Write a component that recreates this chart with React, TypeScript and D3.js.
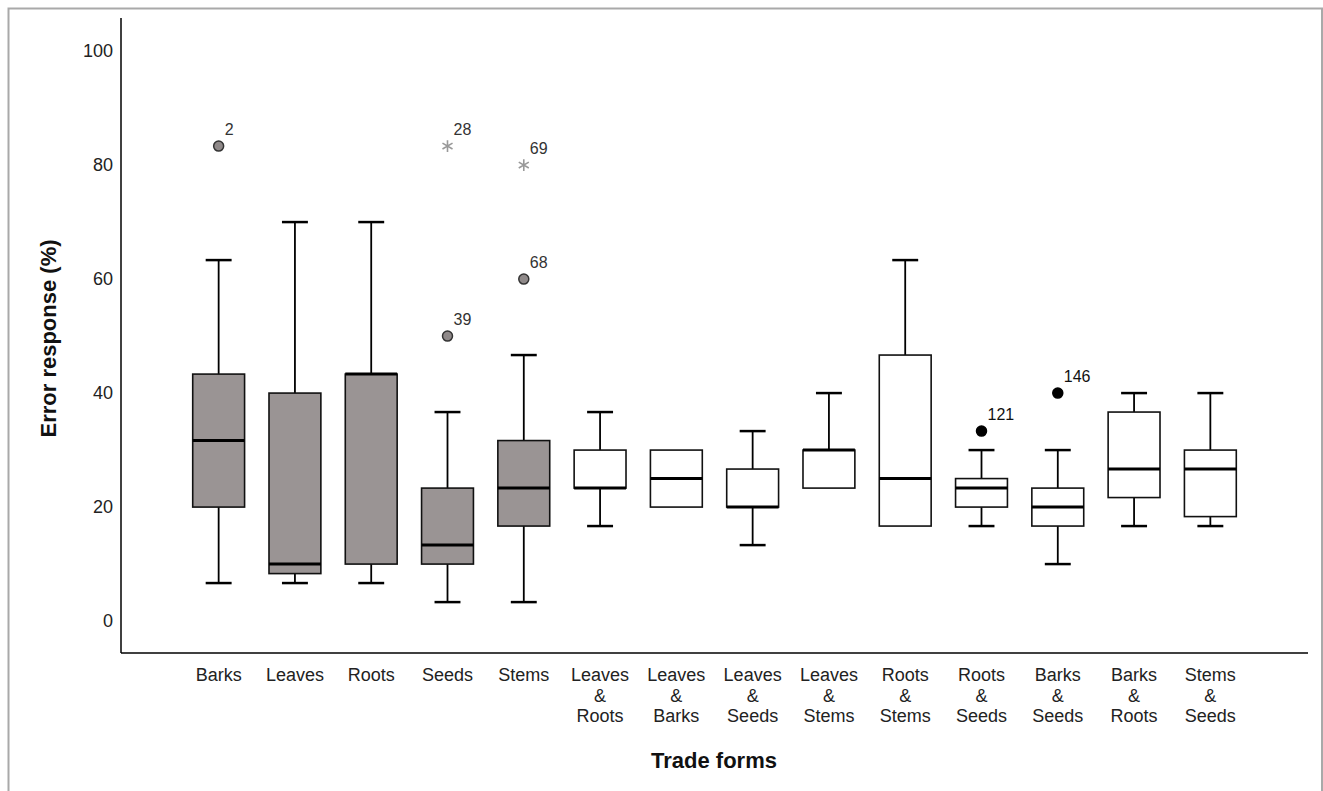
import React from "react";
import * as d3 from "d3";

const categories = [
  "Barks", "Leaves", "Roots", "Seeds", "Stems",
  "Leaves & Roots", "Leaves & Barks", "Leaves & Seeds", "Leaves & Stems",
  "Roots & Stems", "Roots & Seeds", "Barks & Seeds", "Barks & Roots", "Stems & Seeds",
];
const whiskerLow = [6.67, 6.67, 6.67, 3.33, 3.33, 16.67, 20, 13.33, 23.33, 16.67, 16.67, 10, 16.67, 16.67];
const q1 = [20, 8.33, 10, 10, 16.67, 23.33, 20, 20, 23.33, 16.67, 20, 16.67, 21.67, 18.33];
const medians = [31.67, 10, 43.33, 13.33, 23.33, 23.33, 25, 20, 30, 25, 23.33, 20, 26.67, 26.67];
const q3 = [43.33, 40, 43.33, 23.33, 31.67, 30, 30, 26.67, 30, 46.67, 25, 23.33, 36.67, 30];
const whiskerHigh = [63.33, 70, 70, 36.67, 46.67, 36.67, 30, 33.33, 40, 63.33, 30, 30, 40, 40];
const singleForms = ["Barks", "Leaves", "Roots", "Seeds", "Stems"];

const outlierCats = ["Barks", "Seeds", "Seeds", "Stems", "Stems", "Roots & Seeds", "Barks & Seeds"];
const outlierValues = [83.33, 50, 83.33, 60, 80, 33.33, 40];
const outlierLabels = ["2", "39", "28", "68", "69", "121", "146"];
const outlierKinds = ["circle", "circle", "star", "circle", "star", "circle", "circle"];

const yTicks = [0, 20, 40, 60, 80, 100];
const yDomain = [-5.6, 105.8];

const FONT = "'Liberation Sans', Arial, sans-serif";

export default function App() {
  const W = 1323, H = 791;
  const x0 = 121, x1 = 1308, yTop = 18, yBottom = 653;
  const x = d3.scalePoint<string>().domain(categories).range([x0, x1]).padding(1.28);
  const y = d3.scaleLinear().domain(yDomain).range([yBottom, yTop]);
  const step = x.step();
  const boxW = step * 0.68;
  const capW = boxW * 0.5;
  const star = d3.symbol().type(d3.symbolAsterisk).size(95)();

  return (
    <svg width={W} height={H} style={{ position: "absolute", left: 0, top: 0, display: "block", background: "#fff" }}>
      <rect x={8.5} y={8.5} width={1313.5} height={820} fill="none" stroke="#a9a9a9" strokeWidth={2} />
      {/* axes */}
      <line x1={x0} x2={x0} y1={yTop} y2={yBottom} stroke="#000" strokeWidth={1.5} />
      <line x1={x0} x2={x1} y1={yBottom} y2={yBottom} stroke="#000" strokeWidth={1.5} />
      {yTicks.map((t) => (
        <text key={t} x={113} y={y(t)} dy="0.35em" textAnchor="end" fontFamily={FONT} fontSize={18} fill="#222">
          {t}
        </text>
      ))}
      {categories.map((c) => {
        const lines = c.includes(" & ") ? [c.split(" & ")[0], "&", c.split(" & ")[1]] : [c];
        return (
          <text key={c} x={x(c)} y={681} textAnchor="middle" fontFamily={FONT} fontSize={18} fill="#222">
            {lines.map((l, i) => (
              <tspan key={i} x={x(c)} y={681 + i * 20.5}>{l}</tspan>
            ))}
          </text>
        );
      })}
      <text x={714} y={768} textAnchor="middle" fontFamily={FONT} fontSize={22} fontWeight="bold" fill="#111">
        Trade forms
      </text>
      <text transform={`translate(56,${(yTop + yBottom) / 2 + 3}) rotate(-90)`} textAnchor="middle" fontFamily={FONT} fontSize={22} fontWeight="bold" fill="#111">
        Error response (%)
      </text>
      {/* boxes */}
      {categories.map((c, i) => {
        const cx = x(c) as number;
        const fill = singleForms.includes(c) ? "#9a9494" : "#ffffff";
        return (
          <g key={c}>
            {whiskerHigh[i] > q3[i] && (
              <>
                <line x1={cx} x2={cx} y1={y(q3[i])} y2={y(whiskerHigh[i])} stroke="#000" strokeWidth={1.8} />
                <line x1={cx - capW / 2} x2={cx + capW / 2} y1={y(whiskerHigh[i])} y2={y(whiskerHigh[i])} stroke="#000" strokeWidth={2.5} />
              </>
            )}
            {whiskerLow[i] < q1[i] && (
              <>
                <line x1={cx} x2={cx} y1={y(q1[i])} y2={y(whiskerLow[i])} stroke="#000" strokeWidth={1.8} />
                <line x1={cx - capW / 2} x2={cx + capW / 2} y1={y(whiskerLow[i])} y2={y(whiskerLow[i])} stroke="#000" strokeWidth={2.5} />
              </>
            )}
            <rect x={cx - boxW / 2} y={y(q3[i])} width={boxW} height={y(q1[i]) - y(q3[i])} fill={fill} stroke="#111" strokeWidth={1.6} />
            <line x1={cx - boxW / 2} x2={cx + boxW / 2} y1={y(medians[i])} y2={y(medians[i])} stroke="#000" strokeWidth={3} />
          </g>
        );
      })}
      {/* outliers */}
      {outlierCats.map((c, i) => {
        const cx = x(c) as number;
        const cy = y(outlierValues[i]);
        const single = singleForms.includes(c);
        return (
          <g key={i}>
            {outlierKinds[i] === "star" ? (
              <path d={star as string} transform={`translate(${cx},${cy})`} fill="none" stroke="#999" strokeWidth={1.6} />
            ) : (
              <circle cx={cx} cy={cy} r={5} fill={single ? "#8f8989" : "#000"} stroke={single ? "#333" : "#000"} strokeWidth={1.5} />
            )}
            <text x={cx + 6} y={cy - 11} fontFamily={FONT} fontSize={16} fill={single ? "#333" : "#111"}>
              {outlierLabels[i]}
            </text>
          </g>
        );
      })}
    </svg>
  );
}
